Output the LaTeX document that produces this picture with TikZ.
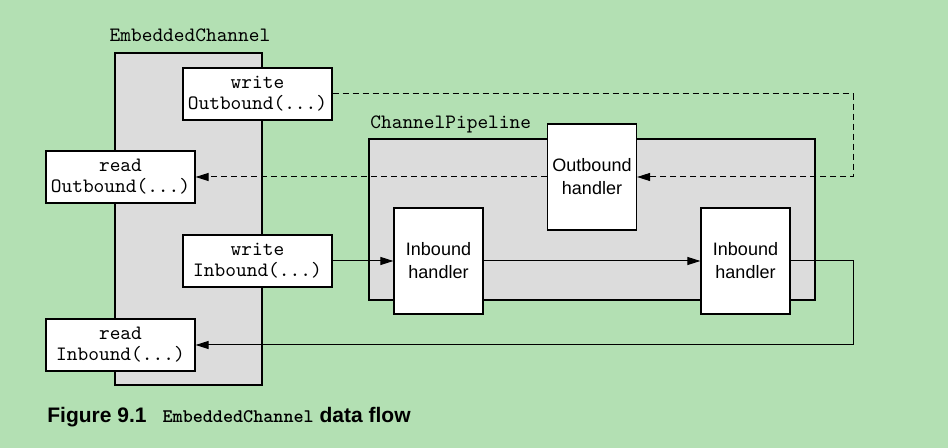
\documentclass[tikz,border=0pt]{standalone}
\usepackage{fontspec}
\setmainfont{Liberation Sans}
\newfontfamily\capmono{lmmonolt10-bold.otf}
\usetikzlibrary{arrows.meta}
\definecolor{bggreen}{RGB}{179,224,179}
\definecolor{boxgray}{RGB}{220,220,220}
\tikzset{
  callbox/.style={draw, line width=0.6pt, fill=white, minimum width=74.5pt,
    minimum height=26pt, inner sep=0pt, align=center,
    font=\ttfamily\fontsize{10.2}{10.5}\selectfont},
  handler/.style={draw, line width=0.6pt, fill=white, minimum width=44.5pt,
    minimum height=53pt, inner sep=0pt, align=center,
    font=\fontsize{9}{11.5}\selectfont},
  flow/.style={line width=0.5pt, -{Triangle[length=6.5pt,width=4pt]}},
  dashflow/.style={flow, dash pattern=on 3pt off 2pt},
}
\begin{document}
\begin{tikzpicture}[x=0.5pt,y=-0.5pt]
\fill [bggreen] (0,0) rectangle (948,448);
\useasboundingbox (0,0) rectangle (948,448);
% channel and pipeline
\draw [line width=0.6pt, fill=boxgray] (115,53) rectangle (262,385);
\node (chlabel) [anchor=base, font=\ttfamily\fontsize{10.2}{10}\selectfont] at (190,42) {EmbeddedChannel};
\draw [line width=0.6pt, fill=boxgray] (369,139) rectangle (815,300);
\node (pllabel) [anchor=base west, inner sep=0pt, font=\ttfamily\fontsize{10.2}{10}\selectfont] at (370,129) {ChannelPipeline};
% calls
\node (writeout) [callbox] at (257.5,94) {write\\Outbound(...)};
\node (readout) [callbox] at (120.5,177) {read\\Outbound(...)};
\node (writein) [callbox] at (257.5,261) {write\\Inbound(...)};
\node (readin) [callbox] at (120.5,345) {read\\Inbound(...)};
% handlers
\node (outh) [handler] at (592,177) {Outbound\\handler};
\node (inha) [handler] at (438.5,261) {Inbound\\handler};
\node (inhb) [handler] at (745.5,261) {Inbound\\handler};
\coordinate (outturn) at (853,177);
\coordinate (inturn) at (853,345);
% outbound flow
\draw [dashflow] (writeout.east) -| (outturn) -- (outh.east);
\draw [dashflow] (outh.west) -- (readout.east);
% inbound flow
\draw [flow] (writein.east) -- (inha.west);
\draw [flow] (inha.east) -- (inhb.west);
\draw [flow] (inhb.east) -| (inturn) -- (readin.east);
% caption
\node (caption) [anchor=base west, inner sep=0pt, font=\bfseries\fontsize{10.5}{12}\selectfont] at (47,423)
  {Figure 9.1\hspace{8pt}{\capmono\fontsize{9.6}{10}\selectfont EmbeddedChannel} data flow};
\end{tikzpicture}
\end{document}
